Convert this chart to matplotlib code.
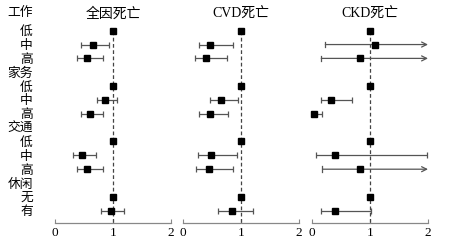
import numpy as np
import matplotlib.pyplot as plt

plt.rcParams['font.family'] = ['Liberation Serif', 'Noto Sans CJK SC']

# 行标签（从上到下）
row_labels = ['低', '中', '高', '家务', '低', '中', '高', '交通', '低', '中', '高', '休闲', '无', '有']
data_rows = [0, 1, 2, 4, 5, 6, 8, 9, 10, 12, 13]
titles = ['全因死亡', 'CVD死亡', 'CKD死亡']

# HR 与 95%CI
hr_all = [1, 0.65, 0.56, 1, 0.87, 0.61, 1, 0.47, 0.56, 1, 0.96]
lo_all = [1, 0.45, 0.38, 1, 0.72, 0.44, 1, 0.31, 0.38, 1, 0.79]
hi_all = [1, 0.93, 0.82, 1, 1.07, 0.82, 1, 0.71, 0.82, 1, 1.19]

hr_cvd = [1, 0.47, 0.40, 1, 0.66, 0.46, 1, 0.49, 0.44, 1, 0.85]
lo_cvd = [1, 0.27, 0.21, 1, 0.46, 0.27, 1, 0.25, 0.22, 1, 0.60]
hi_cvd = [1, 0.86, 0.75, 1, 0.94, 0.77, 1, 0.93, 0.86, 1, 1.20]

hr_ckd = [1, 1.09, 0.82, 1, 0.33, 0.03, 1, 0.40, 0.83, 1, 0.39]
lo_ckd = [1, 0.23, 0.16, 1, 0.16, 0.01, 1, 0.07, 0.18, 1, 0.16]
hi_ckd = [1, 3.50, 3.20, 1, 0.69, 0.17, 1, 1.99, 3.10, 1, 1.01]

panels = [(hr_all, lo_all, hi_all), (hr_cvd, lo_cvd, hi_cvd), (hr_ckd, lo_ckd, hi_ckd)]

W, H = 455, 246
fig = plt.figure(figsize=(W / 100, H / 100), dpi=100)

lefts = [55, 183, 312]
bottom_px, top_px = 223, 5
row0_px, step = 30.7, 13.85
ytop = -(row0_px - top_px) / step
ybot = 13 + (bottom_px - (row0_px + 13 * step)) / step

err_col = '#555555'
for k, (hr, lo, hi) in enumerate(panels):
    ax = fig.add_axes([lefts[k] / W, 1 - bottom_px / H, 116 / W, (bottom_px - top_px) / H])
    ax.set_xlim(0, 2)
    ax.set_ylim(ybot, ytop)
    for s in ['top', 'left', 'right']:
        ax.spines[s].set_visible(False)
    ax.spines['bottom'].set_color('#888888')
    ax.spines['bottom'].set_linewidth(0.9)
    ax.set_xticks([0, 1, 2])
    ax.set_xticklabels(['0', '1', '2'], fontsize=9.5)
    ax.tick_params(axis='x', direction='in', length=3, color='#888888', pad=3)

    ax.plot([1, 1], [0, ybot], ls=(0, (3, 2)), color='#444444', lw=0.9)

    for y, h, l, u in zip(data_rows, hr, lo, hi):
        if u > l:
            if u > 2:
                ax.annotate('', xy=(2, y), xytext=(l, y),
                            arrowprops=dict(arrowstyle='->', color=err_col, lw=0.9,
                                            shrinkA=0, shrinkB=0, mutation_scale=9))
                ax.plot([l, l], [y - 0.2, y + 0.2], color=err_col, lw=0.9)
            else:
                ax.errorbar(h, y, xerr=[[h - l], [u - h]], fmt='none', ecolor=err_col,
                            elinewidth=0.9, capsize=2.2, capthick=0.9, clip_on=False)
        ax.plot(h, y, 's', color='black', ms=5, clip_on=False, zorder=5)

    ax.text(1, -1.2, titles[k], ha='center', va='center', fontsize=10)

    if k == 0:
        ax.set_yticks(range(len(row_labels)))
        ax.set_yticklabels(row_labels, fontsize=9.2)
        ax.tick_params(axis='y', length=0, pad=16)
        ax.text(-0.19, -1.25, '工作', transform=ax.get_yaxis_transform(),
                ha='right', va='center', fontsize=9.2)
    else:
        ax.set_yticks([])

fig.savefig('out.png', dpi=100)
